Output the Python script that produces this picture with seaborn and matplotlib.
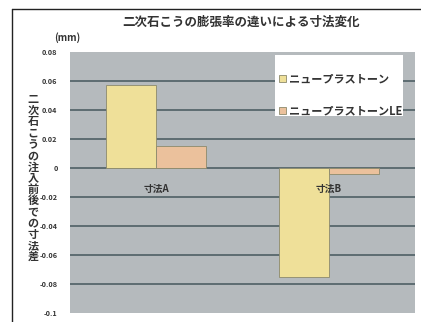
import matplotlib
matplotlib.use("Agg")
import matplotlib.pyplot as plt
import seaborn as sns
import pandas as pd
from matplotlib.lines import Line2D
from matplotlib.patches import Rectangle

categories = ["寸法A", "寸法B"]
series_names = ["ニュープラストーン", "ニュープラストーンLE"]
values_std = [0.057, -0.075]
values_le = [0.015, -0.004]
yticks = [0.08, 0.06, 0.04, 0.02, 0, -0.02, -0.04, -0.06, -0.08, -0.1]
ytick_labels = ["0.08", "0.06", "0.04", "0.02", "0", "-0.02", "-0.04", "-0.06", "-0.08", "-0.1"]
title = "二次石こうの膨張率の違いによる寸法変化"
ylabel = "二次石こうの注入前後での寸法差"

sns.set_theme(style="white")
plt.rcParams["font.family"] = ["Noto Sans CJK JP", "DejaVu Sans"]

df = pd.DataFrame({
    "cat": categories * 2,
    "series": [series_names[0]] * 2 + [series_names[1]] * 2,
    "val": values_std + values_le,
})

fig = plt.figure(figsize=(4.21, 3.22), dpi=100)
fig.patch.set_facecolor("white")
ax = fig.add_axes([70 / 421, 9 / 322, 345 / 421, 261 / 322])
ax.set_facecolor("#b5babd")

sns.barplot(data=df, x="cat", y="val", hue="series", order=categories,
            hue_order=series_names, palette=["#fde98b", "#f8c08f"],
            width=0.58, gap=0, edgecolor="#8c8a6c", linewidth=0.6,
            errorbar=None, ax=ax, zorder=3)

ax.set_ylim(-0.1, 0.08)
ax.set_xlim(-0.5, 1.5)
ax.set_yticks(yticks)
ax.set_yticklabels(ytick_labels, fontsize=5.2, color="#333333", fontweight="bold")
ax.tick_params(axis="y", length=0, pad=9)
ax.set_xticks([])
ax.set_xlabel("")
ax.set_ylabel("")
for y in yticks[1:-1]:
    ax.axhline(y, color="#56666c", linewidth=1.3, zorder=1)
for s in ax.spines.values():
    s.set_visible(False)

for i, c in enumerate(categories):
    ax.text(i, -0.0145, c, ha="center", va="center", fontsize=7,
            color="#333333", fontweight="bold", zorder=4)

ax.add_patch(Rectangle((205 / 345, 197 / 261), 128 / 345, 61 / 261,
                       transform=ax.transAxes, facecolor="white",
                       edgecolor="none", zorder=5))
leg = ax.legend(loc="upper left", bbox_to_anchor=(207 / 345, 243 / 261),
                fontsize=8, frameon=False,
                handlelength=0.6, handleheight=0.6, handletextpad=0.3,
                labelspacing=1.75, borderpad=0.2, borderaxespad=0)
leg.set_zorder(6)
for t in leg.get_texts():
    t.set_color("#333333")
    t.set_fontweight("bold")

fig.text(241 / 421, 1 - 22 / 322, title, ha="center", va="center",
         fontsize=9, fontweight="bold", color="#333333")
fig.text(67 / 421, 1 - 38 / 322, "(mm)", ha="center", va="center",
         fontsize=7, color="#333333", fontweight="bold")
fig.text(33 / 421, 1 - 178 / 322, "\n".join(ylabel), ha="center", va="center",
         fontsize=8, color="#333333", fontweight="bold", linespacing=0.82)

fig.add_artist(Line2D([12 / 421, 12 / 421], [0, 1 - 9 / 322],
                      transform=fig.transFigure, color="#222222", linewidth=1))
fig.add_artist(Line2D([12 / 421, 1], [1 - 9 / 322, 1 - 9 / 322],
                      transform=fig.transFigure, color="#222222", linewidth=1))

fig.savefig("out.png", dpi=100)
